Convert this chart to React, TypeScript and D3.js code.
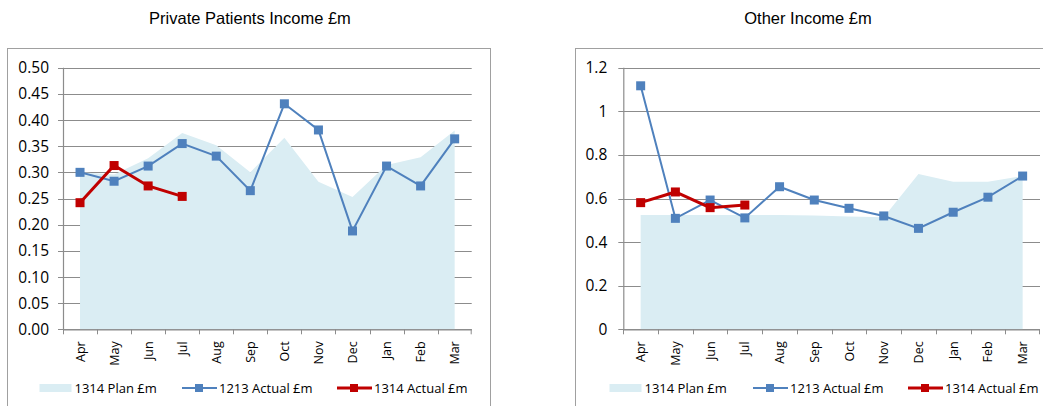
import React from "react";
import * as d3 from "d3";

const months = ["Apr", "May", "Jun", "Jul", "Aug", "Sep", "Oct", "Nov", "Dec", "Jan", "Feb", "Mar"];

const ppPlan = [0.3, 0.296, 0.327, 0.375, 0.352, 0.3, 0.366, 0.282, 0.253, 0.314, 0.329, 0.38];
const pp1213 = [0.3, 0.283, 0.312, 0.355, 0.331, 0.265, 0.431, 0.381, 0.188, 0.312, 0.274, 0.364];
const pp1314 = [0.242, 0.313, 0.274, 0.254];
const ppTicks = [0, 0.05, 0.1, 0.15, 0.2, 0.25, 0.3, 0.35, 0.4, 0.45, 0.5];

const otherPlan = [0.524, 0.524, 0.524, 0.524, 0.524, 0.522, 0.517, 0.514, 0.712, 0.677, 0.677, 0.703];
const other1213 = [1.117, 0.509, 0.593, 0.511, 0.654, 0.593, 0.555, 0.52, 0.463, 0.537, 0.606, 0.703];
const other1314 = [0.581, 0.63, 0.558, 0.57];
const otherTicks = [0, 0.2, 0.4, 0.6, 0.8, 1, 1.2];

const legendLabels = ["1314 Plan £m", "1213 Actual £m", "1314 Actual £m"];

const PLAN_FILL = "#DAEDF3";
const BLUE = "#4F81BD";
const RED = "#C00000";
const GRID = "#8C8C8C";
const FONT = "'Open Sans', 'Liberation Sans', sans-serif";

type PanelProps = {
  title: string;
  titleX: number;
  frame: [number, number, number, number];
  x0: number;
  x1: number;
  yTop: number;
  yBot: number;
  yMax: number;
  ticks: number[];
  fmt: (v: number) => string;
  labelGap: number;
  plan: number[];
  a1213: number[];
  a1314: number[];
  legendX: [number, number, number];
};

function Panel(p: PanelProps) {
  const x = d3.scaleBand<string>().domain(months).range([p.x0, p.x1]);
  const y = d3.scaleLinear().domain([0, p.yMax]).range([p.yBot, p.yTop]);
  const cx = (i: number) => (x(months[i]) as number) + x.bandwidth() / 2;

  const area = d3
    .area<number>()
    .x((_, i) => cx(i))
    .y0(y(0))
    .y1((d) => y(d));
  const line = d3
    .line<number>()
    .x((_, i) => cx(i))
    .y((d) => y(d));

  const [fx, fy, fw, fh] = p.frame;
  const legY = 388;
  const [lx1, lx2, lx3] = p.legendX;

  return (
    <g>
      <rect x={fx + 0.5} y={fy + 0.5} width={fw} height={fh} fill="white" stroke="#A0A0A0" />
      <text x={p.titleX} y={24} textAnchor="middle" fontFamily="'Liberation Sans', Arial, sans-serif" fontSize={16.5} fill="#000">
        {p.title}
      </text>
      {p.ticks.map((t) => (
        <g key={t}>
          <line x1={p.x0 - 5} x2={p.x1} y1={Math.round(y(t)) + 0.5} y2={Math.round(y(t)) + 0.5} stroke={GRID} strokeWidth={1.2} />
          <text x={p.x0 - p.labelGap} y={y(t)} dy="0.36em" textAnchor="end" fontFamily={FONT} fontSize={15.5} fill="#000">
            {p.fmt(t)}
          </text>
        </g>
      ))}
      <path d={area(p.plan) as string} fill={PLAN_FILL} />
      <line x1={p.x0 + 0.5} x2={p.x0 + 0.5} y1={p.yTop} y2={p.yBot} stroke={GRID} strokeWidth={1.2} />
      <line x1={p.x0} x2={p.x1} y1={p.yBot + 0.5} y2={p.yBot + 0.5} stroke={GRID} strokeWidth={1.2} />
      {months.map((m) => (
        <line
          key={"t" + m}
          x1={Math.round(x(m) as number) + 0.5}
          x2={Math.round(x(m) as number) + 0.5}
          y1={p.yBot}
          y2={p.yBot + 5}
          stroke={GRID}
        />
      ))}
      <line x1={p.x1 - 0.5} x2={p.x1 - 0.5} y1={p.yBot} y2={p.yBot + 5} stroke={GRID} />
      {months.map((m, i) => (
        <text
          key={"l" + m}
          transform={`translate(${cx(i)},${p.yBot + 12}) rotate(-90)`}
          textAnchor="end"
          dy="0.36em"
          fontFamily={FONT}
          fontSize={12.5}
          fill="#000"
        >
          {m}
        </text>
      ))}
      <path d={line(p.a1213) as string} fill="none" stroke={BLUE} strokeWidth={2} />
      {p.a1213.map((d, i) => (
        <rect key={"b" + i} x={cx(i) - 4.5} y={y(d) - 4.5} width={9} height={9} fill={BLUE} />
      ))}
      <path d={line(p.a1314) as string} fill="none" stroke={RED} strokeWidth={3} />
      {p.a1314.map((d, i) => (
        <rect key={"r" + i} x={cx(i) - 4.5} y={y(d) - 4.5} width={9} height={9} fill={RED} />
      ))}
      <rect x={lx1} y={legY - 4} width={32} height={8} fill={PLAN_FILL} />
      <text x={lx1 + 35} y={legY} dy="0.36em" fontFamily={FONT} fontSize={13} fill="#000">
        {legendLabels[0]}
      </text>
      <line x1={lx2} x2={lx2 + 35} y1={legY} y2={legY} stroke={BLUE} strokeWidth={2} />
      <rect x={lx2 + 13} y={legY - 4} width={8} height={8} fill={BLUE} />
      <text x={lx2 + 37} y={legY} dy="0.36em" fontFamily={FONT} fontSize={13} fill="#000">
        {legendLabels[1]}
      </text>
      <line x1={lx3} x2={lx3 + 35} y1={legY} y2={legY} stroke={RED} strokeWidth={3} />
      <rect x={lx3 + 13} y={legY - 4} width={8} height={8} fill={RED} />
      <text x={lx3 + 37} y={legY} dy="0.36em" fontFamily={FONT} fontSize={13} fill="#000">
        {legendLabels[2]}
      </text>
    </g>
  );
}

export default function App() {
  return (
    <svg width={1043} height={406} style={{ position: "absolute", left: 0, top: 0, background: "white" }}>
      <Panel
        title="Private Patients Income £m"
        titleX={250}
        frame={[7, 48, 483, 420]}
        x0={63}
        x1={471.7}
        yTop={67.7}
        yBot={329.3}
        yMax={0.5}
        ticks={ppTicks}
        fmt={(v) => d3.format(".2f")(v)}
        labelGap={14}
        plan={ppPlan}
        a1213={pp1213}
        a1314={pp1314}
        legendX={[39.5, 182, 337]}
      />
      <Panel
        title="Other Income £m"
        titleX={808}
        frame={[575, 48, 480, 420]}
        x0={623.3}
        x1={1040}
        yTop={67.7}
        yBot={329.3}
        yMax={1.2}
        ticks={otherTicks}
        fmt={(v) => String(Math.round(v * 10) / 10)}
        labelGap={16}
        plan={otherPlan}
        a1213={other1213}
        a1314={other1314}
        legendX={[609.5, 753, 908]}
      />
    </svg>
  );
}
